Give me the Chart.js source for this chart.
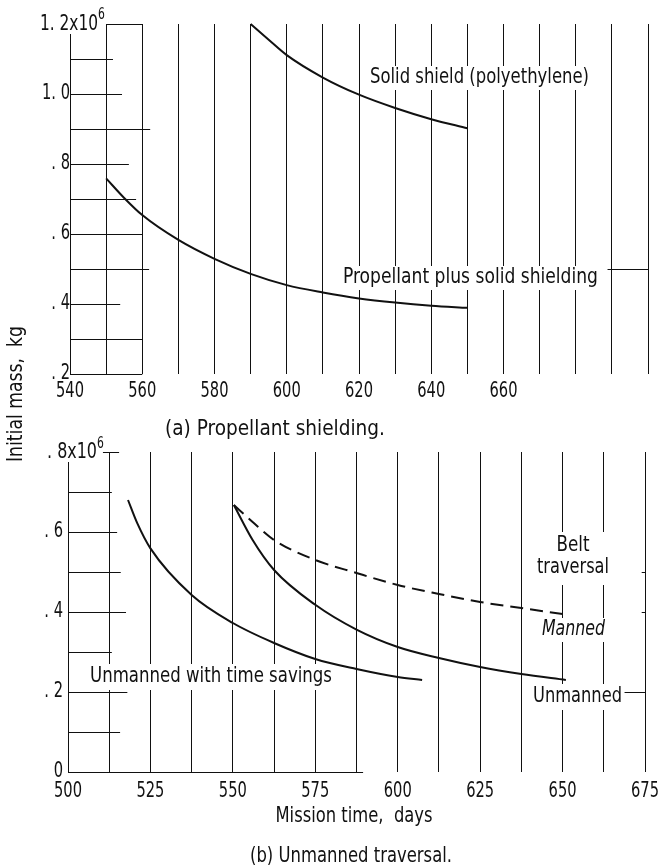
<!DOCTYPE html>
<html>
<head>
<meta charset="utf-8">
<title>Initial mass vs mission time</title>
<script src="https://cdn.jsdelivr.net/npm/chart.js@4.4.1/dist/chart.umd.min.js"></script>
<style>
    html, body { margin: 0; padding: 0; background: #fff; }
    #page { position: relative; width: 661px; height: 867px; overflow: hidden; background: #fff; }
    #chartA { position: absolute; left: 0; top: 0; }
    #chartB { position: absolute; left: 0; top: 420px; }
</style>
</head>
<body>
<div id="page">
    <canvas id="chartA" width="661" height="480"></canvas>
    <canvas id="chartB" width="661" height="447"></canvas>
</div>
<script>
// (a) Propellant shielding -- mass in units of 10^6 kg
const daysSolidShield = [590, 595, 600, 610, 620, 630, 640, 650];
const massSolidShield = [1.2, 1.155, 1.111, 1.047, 0.998, 0.96, 0.928, 0.902];
const daysPropellant = [550, 555, 560, 570, 580, 590, 600, 610, 620, 630, 640, 650];
const massPropellant = [0.759, 0.703, 0.654, 0.583, 0.529, 0.486, 0.454, 0.433, 0.416, 0.404, 0.395, 0.389];
const dayLabelsA = [540, 560, 580, 600, 620, 640, 660];
const massLabelsA = [0.2, 0.4, 0.6, 0.8, 1.0];

// (b) Unmanned traversal
const daysTimeSavings = [518.2, 521, 525, 537.5, 550, 562.5, 575, 587.5, 600, 607.4];
const massTimeSavings = [0.68, 0.622, 0.559, 0.4425, 0.3725, 0.3225, 0.2825, 0.2575, 0.2375, 0.23];
const daysUnmanned = [550.3, 556, 562.5, 575, 587.5, 600, 612.5, 625, 637.5, 651];
const massUnmanned = [0.6675, 0.58, 0.505, 0.418, 0.356, 0.3125, 0.285, 0.2625, 0.245, 0.23];
const daysManned = [550.3, 556, 562.5, 575, 587.5, 600, 612.5, 625, 637.5, 650];
const massManned = [0.6675, 0.625, 0.58, 0.53, 0.4975, 0.4675, 0.445, 0.425, 0.41, 0.395];
const dayLabelsB = [500, 525, 550, 575, 600, 625, 650, 675];
const massLabelsB = [0, 0.2, 0.4, 0.6];

const FONT = "'Liberation Sans Narrow', 'DejaVu Sans Condensed', 'Arial Narrow', sans-serif";
const INK = '#111';
const SIZE = 21;
const B_TOP = 420; // page offset of the lower canvas

function fmtMass(v) {
    const r = Math.round(v * 10);
    if (r === 0) return '0';
    if (r >= 10) return Math.floor(r / 10) + '. ' + (r % 10);
    return '. ' + r;
}

function curve(name, xs, ys, dash) {
    return {
        label: name,
        data: xs.map((x, i) => ({ x: x, y: ys[i] })),
        borderColor: INK,
        borderWidth: 2,
        borderDash: dash || [],
        pointRadius: 0,
        fill: false,
        clip: 4,
        cubicInterpolationMode: 'monotone'
    };
}

// text squeezed horizontally (to a width, or by a factor); optional white box hides the grid behind it
function label(ctx, text, x, y, o) {
    o = o || {};
    ctx.save();
    ctx.font = (o.italic ? 'italic ' : '') + (o.size || SIZE) + 'px ' + FONT;
    ctx.textBaseline = 'middle';
    ctx.textAlign = 'left';
    const w = ctx.measureText(text).width;
    const sx = o.width ? o.width / w : (o.sx || 1);
    const dw = w * sx;
    let left = x;
    if (o.align === 'center') left = x - dw / 2;
    else if (o.align === 'right') left = x - dw;
    if (o.knockout) {
        ctx.fillStyle = '#fff';
        ctx.fillRect(left - 2, y - o.knockout, dw + 4, o.knockout * 2);
    }
    ctx.translate(left, y);
    ctx.scale(sx, 1);
    ctx.fillStyle = INK;
    ctx.fillText(text, 0, 0);
    ctx.restore();
}

// squeeze factor that makes three digits about 28px wide
function digitSqueeze(ctx) {
    ctx.save();
    ctx.font = SIZE + 'px ' + FONT;
    const w = ctx.measureText('000').width;
    ctx.restore();
    return 28 / w;
}

function tickLabels(chart, xLabels, yLabels, xGap, yGap) {
    const ctx = chart.ctx, sx = chart.scales.x, sy = chart.scales.y;
    const k = digitSqueeze(ctx);
    const a = chart.chartArea;
    xLabels.forEach(v => label(ctx, String(v), sx.getPixelForValue(v), a.bottom + xGap, { align: 'center', sx: k }));
    yLabels.forEach(v => label(ctx, fmtMass(v), a.left - yGap, sy.getPixelForValue(v), { align: 'right', sx: k }));
}

// short horizontal rules of the graph paper, in data units
function stubs(chart, list) {
    const ctx = chart.ctx, sx = chart.scales.x, sy = chart.scales.y;
    ctx.save();
    ctx.strokeStyle = INK;
    ctx.lineWidth = 1;
    list.forEach(s => {
        const py = Math.round(sy.getPixelForValue(s[0])) + 0.5;
        ctx.beginPath();
        ctx.moveTo(sx.getPixelForValue(s[1]), py);
        ctx.lineTo(sx.getPixelForValue(s[2]), py);
        ctx.stroke();
    });
    ctx.restore();
}

function axes(xMin, xMax, xStep, yMin, yMax, yWidth) {
    return {
        x: {
            type: 'linear', min: xMin, max: xMax,
            border: { display: false },
            grid: { display: true, color: INK, lineWidth: 1, drawTicks: false },
            ticks: { display: false, stepSize: xStep, autoSkip: false },
            afterFit: s => { s.height = 30; }
        },
        y: {
            type: 'linear', min: yMin, max: yMax,
            border: { display: false },
            grid: { display: false, drawTicks: false },
            ticks: { display: false },
            afterFit: s => { s.width = yWidth; }
        }
    };
}

const common = {
    responsive: false,
    devicePixelRatio: 1,
    animation: false,
    plugins: { legend: { display: false }, tooltip: { enabled: false } }
};

// Panel (a)
new Chart(document.getElementById('chartA'), {
    type: 'line',
    data: {
        datasets: [
            curve('Solid shield (polyethylene)', daysSolidShield, massSolidShield),
            curve('Propellant plus solid shielding', daysPropellant, massPropellant)
        ]
    },
    options: Object.assign({}, common, {
        layout: { padding: { left: 0, right: 13, top: 24, bottom: 76 } },
        scales: axes(540, 700, 10, 0.2, 1.2, 70)
    }),
    plugins: [{
        id: 'panelA',
        beforeDatasetsDraw(chart) {
            const ctx = chart.ctx;
            tickLabels(chart, dayLabelsA, massLabelsA, 18, 0);

            label(ctx, '1. 2x10', 98, 25, { align: 'right', width: 58, knockout: 9 });
            label(ctx, '6', 98, 15, { size: 15, sx: 0.8 });

            label(ctx, 'Solid shield (polyethylene)', 370, 78, { width: 219, knockout: 12 });
            label(ctx, 'Propellant plus solid shielding', 343, 278, { width: 255, knockout: 12 });
            label(ctx, '(a) Propellant shielding.', 275, 430, { align: 'center', width: 220 });

            ctx.save();
            ctx.translate(17, 394);
            ctx.rotate(-Math.PI / 2);
            label(ctx, 'Initial mass,  kg', 0, 0, { align: 'center', width: 136 });
            ctx.restore();

            stubs(chart, [
                [1.2, 550, 560], [1.1, 540, 551.9], [1.0, 540, 554.4], [0.9, 540, 562.2],
                [0.8, 540, 556.3], [0.7, 540, 558.3], [0.6, 540, 560.2], [0.5, 540, 561.9],
                [0.4, 540, 553.9], [0.3, 540, 560], [0.2, 540, 560], [0.5, 688.8, 700]
            ]);
        }
    }]
});

// Panel (b)
new Chart(document.getElementById('chartB'), {
    type: 'line',
    data: {
        datasets: [
            curve('Unmanned with time savings', daysTimeSavings, massTimeSavings),
            curve('Unmanned', daysUnmanned, massUnmanned),
            curve('Manned', daysManned, massManned, [13, 7])
        ]
    },
    options: Object.assign({}, common, {
        layout: { padding: { left: 0, right: 16, top: 452 - B_TOP, bottom: 447 - (772 - B_TOP) - 30 } },
        scales: axes(500, 675, 12.5, 0, 0.8, 68)
    }),
    plugins: [{
        id: 'panelB',
        beforeDatasetsDraw(chart) {
            const ctx = chart.ctx;
            const py = y => y - B_TOP;
            tickLabels(chart, dayLabelsB, massLabelsB, 20, 5);

            label(ctx, '. 8x10', 97, py(453), { align: 'right', width: 50, knockout: 9 });
            label(ctx, '6', 97, py(444), { size: 15, sx: 0.8 });

            label(ctx, 'Unmanned with time savings', 90, py(677), { width: 242, knockout: 13 });

            ctx.save();
            ctx.fillStyle = '#fff';
            ctx.fillRect(535, py(532), 76, 53);
            ctx.restore();
            label(ctx, 'Belt', 573, py(546), { align: 'center', width: 33 });
            label(ctx, 'traversal', 537, py(568), { width: 72 });
            label(ctx, 'Manned', 542, py(630), { width: 63, italic: true, knockout: 12 });
            label(ctx, 'Unmanned', 533, py(697), { width: 89, knockout: 13 });

            label(ctx, 'Mission time,  days', 354, py(817), { align: 'center', width: 157 });
            label(ctx, '(b) Unmanned traversal.', 351, py(857), { align: 'center', width: 202 });

            stubs(chart, [
                [0.8, 510.6, 515.5], [0.7, 500, 513.3], [0.6, 500, 514.9], [0.5, 500, 516],
                [0.4, 500, 517.6], [0.3, 500, 513.3], [0.2, 500, 518], [0.1, 500, 515.8],
                [0, 500, 589.5], [0.2, 668.8, 675], [0.5, 674, 675], [0.4, 674, 675]
            ]);
        }
    }]
});
</script>
</body>
</html>
